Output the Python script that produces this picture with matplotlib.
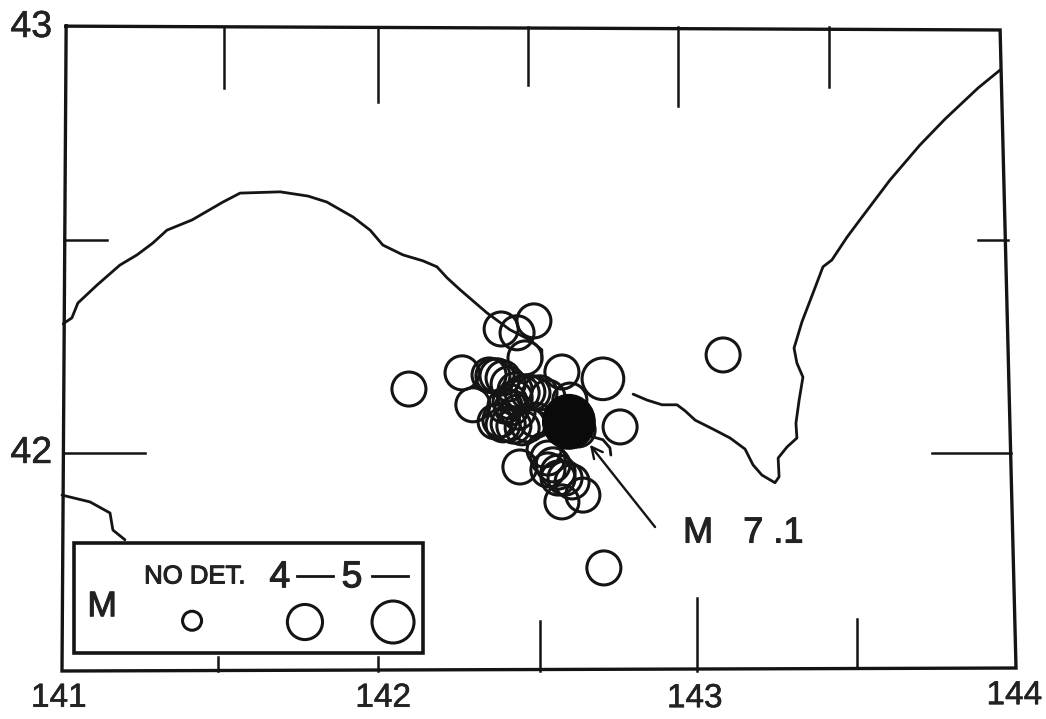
import matplotlib
matplotlib.use("Agg")
import matplotlib.pyplot as plt
import matplotlib.patheffects as pe
from matplotlib.patches import Ellipse, Rectangle

W, H = 1046, 719
L, R, T, B = 62, 1016, 27, 671

plt.rcParams['font.family'] = ['Liberation Sans', 'DejaVu Sans']

coast_a_lon = [141.003,141.031,141.050,141.110,141.182,141.236,141.286,141.330,141.409,141.506,141.560,141.686,141.774,141.833,141.915,141.969,142.009,142.072,142.135,142.179,142.211,142.252,142.336,142.409,142.472,142.509,142.509]
coast_a_lat = [42.303,42.317,42.352,42.394,42.441,42.465,42.493,42.523,42.547,42.589,42.610,42.613,42.603,42.589,42.554,42.523,42.488,42.465,42.451,42.437,42.411,42.383,42.329,42.289,42.265,42.242,42.214]
coast_b_lon = [142.796,142.840,142.887,142.934,142.959,142.991,143.047,143.101,143.148,143.173,143.201,143.242,143.255,143.252,143.280,143.311,143.308,143.318,143.330,143.311,143.302,143.327,143.362,143.393,143.421,143.469,143.509,143.604,143.698,143.777,143.881,143.950]
coast_b_lat = [42.138,42.124,42.113,42.113,42.099,42.077,42.056,42.035,42.009,41.972,41.948,41.930,41.944,41.988,42.014,42.035,42.070,42.124,42.178,42.211,42.246,42.308,42.376,42.437,42.453,42.507,42.547,42.641,42.723,42.784,42.857,42.899]
coast_c_lon = [141.0,141.088,141.151,141.160,141.198]
coast_c_lat = [41.901,41.885,41.859,41.819,41.796]
fragment_lon = [142.667,142.701,142.723,142.726]
fragment_lat = [42.038,42.031,42.012,41.995]

quake_lon = [142.484,142.381,142.431,142.456,142.258,142.572,142.292,142.755,142.44,142.572,142.638,142.091,143.079,142.704,
             142.343,142.355,142.368,142.387,142.403,142.425,142.447,142.465,142.481,142.503,142.528,142.425,142.409,142.393,
             142.415,142.434,142.377,142.362,142.387,142.403,142.421,142.447,142.465,142.491,142.516,142.528,142.544,142.560,
             142.582,142.528,142.604,142.560,142.597,142.623]
quake_lat = [42.31,42.291,42.282,42.223,42.188,42.19,42.113,42.061,41.967,41.885,41.901,42.15,42.23,41.73,
             42.183,42.181,42.181,42.176,42.162,42.148,42.141,42.143,42.141,42.141,42.131,42.129,42.120,42.110,
             42.106,42.096,42.077,42.073,42.066,42.068,42.063,42.059,42.066,42.077,42.007,41.988,41.972,41.955,
             41.941,41.960,41.932,41.941,42.124,42.054]
big_lon, big_lat = [142.701], [42.174]
main_lon, main_lat = 142.594, 42.073

frame_lon = [141.013, 143.950, 144.0, 141.0, 141.013]
frame_lat = [43.002, 42.993, 41.495, 41.488, 43.002]

x_ticks = [141, 142, 143, 144]
y_ticks = [42, 43]

fig = plt.figure(figsize=(W/100, H/100), dpi=100)
ax = fig.add_axes([L/W, 1-B/H, (R-L)/W, (B-T)/H])
ax.set_xlim(141, 144)
ax.set_ylim(41.488, 43)
ax.axis('off')

ink = '#141414'
txt = '#222222'
thick = [pe.withStroke(linewidth=0.8, foreground=txt)]
thin = [pe.withStroke(linewidth=0.4, foreground=txt)]

ax.plot(frame_lon, frame_lat, color=ink, lw=2.4, clip_on=False, solid_joinstyle='miter')

tk = dict(color=ink, lw=1.8, clip_on=False)
for x, y0, y1 in [(141.49, 41.488, 41.52), (141.994, 41.488, 41.52), (142.503, 41.488, 41.605),
                  (142.997, 41.488, 41.66), (143.5, 41.495, 41.61),
                  (141.509, 42.857, 43), (141.994, 42.824, 43), (142.465, 42.864, 43),
                  (142.937, 42.815, 43), (143.412, 42.859, 43)]:
    ax.plot([x, x], [y0, y1], **tk)
for y, x0, x1 in [(42.5, 141.007, 141.142), (42, 141.003, 141.26), (42.5, 143.88, 143.975), (42, 143.735, 143.985)]:
    ax.plot([x0, x1], [y, y], **tk)

coast = dict(color=ink, lw=2.0, solid_capstyle='round', solid_joinstyle='round')
ax.plot(coast_a_lon, coast_a_lat, **coast)
ax.plot(coast_b_lon, coast_b_lat, **coast)
ax.plot(coast_c_lon, coast_c_lat, clip_on=False, **coast)
ax.plot(fragment_lon, fragment_lat, **coast)

ax.scatter(quake_lon, quake_lat, s=600, facecolors='none', edgecolors=ink, linewidths=2.2)
ax.scatter(big_lon, big_lat, s=900, facecolors='none', edgecolors=ink, linewidths=2.2)
ax.add_patch(Ellipse((main_lon, main_lat), 0.165, 0.128, color='#0a0a0a', zorder=4))

ax.annotate('', xy=(142.66, 42.019), xytext=(142.865, 41.826),
            arrowprops=dict(arrowstyle='->', color=ink, lw=1.7, mutation_scale=20, shrinkA=0, shrinkB=0))
ax.text(142.953, 41.812, 'M   7 .1', fontsize=26, color=txt, ha='left', va='center', path_effects=thick)

# legend box
ax.add_patch(Rectangle((141.038, 41.531), 1.097, 0.258, fc='white', ec=ink, lw=2.6, zorder=5))
ax.text(141.08, 41.639, 'M', fontsize=25.5, color=txt, va='center', zorder=6, path_effects=thick)
ax.text(141.418, 41.71, 'NO DET.', fontsize=18.5, color=txt, ha='center', va='center', zorder=6, path_effects=thick)
ax.text(141.685, 41.708, '4', fontsize=27, color=txt, ha='center', va='center', zorder=6, path_effects=thick)
ax.text(141.912, 41.708, '5', fontsize=27, color=txt, ha='center', va='center', zorder=6, path_effects=thick)
ax.plot([141.739, 141.852], [41.71, 41.71], color=ink, lw=2.0, zorder=6)
ax.plot([141.975, 142.088], [41.71, 41.71], color=ink, lw=2.0, zorder=6)
ax.scatter([141.409], [41.606], s=187, facecolors='none', edgecolors=ink, linewidths=2.2, zorder=6)
ax.scatter([141.764], [41.603], s=640, facecolors='none', edgecolors=ink, linewidths=2.2, zorder=6)
ax.scatter([142.041], [41.603], s=914, facecolors='none', edgecolors=ink, linewidths=2.2, zorder=6)

# axis labels as text
for x, dx, yy in zip(x_ticks, [-0.01, 0.01, -0.01, -0.005], [41.424, 41.424, 41.423, 41.43]):
    ax.text(x + dx, yy, str(x), fontsize=24, color=txt, ha='center', va='center', clip_on=False, path_effects=thin)
for y in y_ticks:
    ax.text(140.969, y, str(y), fontsize=27, color=txt, ha='right', va='center', clip_on=False, path_effects=thin)

fig.savefig('out.png', dpi=100)
